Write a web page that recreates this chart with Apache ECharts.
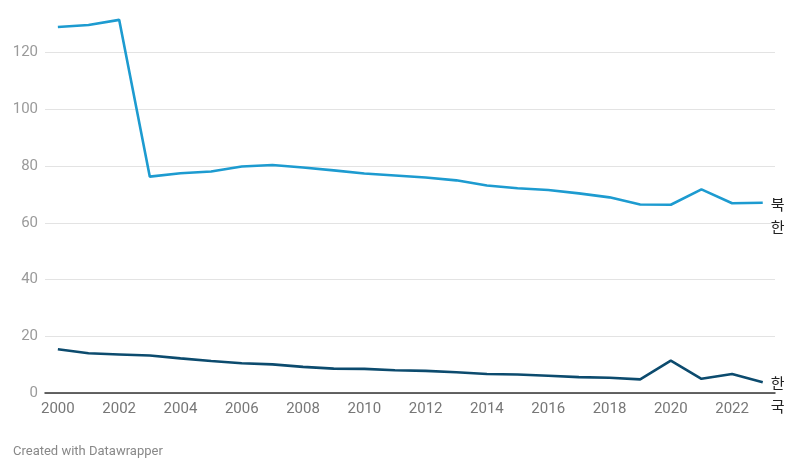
<!DOCTYPE html>
<html>
<head>
<meta charset="utf-8">
<script src="https://cdn.jsdelivr.net/npm/echarts@6/dist/echarts.min.js"></script>
<style>
html,body{margin:0;padding:0;background:#fff;}
#c{width:800px;height:472px;}
</style>
</head>
<body>
<div id="c"></div>
<script>
const years = [2000,2001,2002,2003,2004,2005,2006,2007,2008,2009,2010,2011,2012,2013,2014,2015,2016,2017,2018,2019,2020,2021,2022,2023];
const northKorea = [129.1,129.8,131.6,76.3,77.5,78.1,79.9,80.4,79.5,78.5,77.4,76.7,76.0,75.0,73.2,72.2,71.6,70.4,69.0,66.5,66.4,71.8,66.9,67.1];
const southKorea = [15.4,14.0,13.6,13.2,12.2,11.3,10.5,10.1,9.2,8.6,8.5,8.0,7.8,7.3,6.7,6.5,6.1,5.6,5.4,4.8,11.4,5.0,6.7,3.8];
const xTickLabels = [2000,2002,2004,2006,2008,2010,2012,2014,2016,2018,2020,2022];
const nkName = '북한';
const skName = '한국';

const chart = echarts.init(document.getElementById('c'), null, {renderer:'canvas'});
const font = 'Roboto, "Noto Sans CJK KR", sans-serif';
function pairs(vals){ return years.map((y,i)=>[y, vals[i]]); }
function endLabel(name){
  return {
    show: true,
    formatter: name.split('').join('\n'),
    color: '#222',
    fontFamily: font,
    fontSize: 15,
    lineHeight: 23,
    align: 'left',
    verticalAlign: 'top',
    distance: 8,
    offset: [0, -8]
  };
}
const gl = '#e3e3e3';
chart.setOption({
  animation: false,
  textStyle: {fontFamily: font},
  grid: {left: 45, right: 25, top: 0, bottom: 79, containLabel: false},
  xAxis: {
    type: 'value',
    min: 1999.58,
    max: 2023.4,
    axisLine: {show: true, lineStyle: {color: '#333', width: 1.5}},
    axisTick: {show: false},
    splitLine: {show: false},
    axisLabel: {
      customValues: xTickLabels,
      color: '#777',
      fontSize: 15,
      fontFamily: font,
      margin: 9,
      formatter: v => String(v)
    }
  },
  yAxis: {
    type: 'value',
    min: 0,
    max: 138.6,
    interval: 20,
    axisLine: {show: false},
    axisTick: {show: false},
    splitLine: {show: true, lineStyle: {color: [gl,gl,gl,gl,gl,gl,gl,'rgba(0,0,0,0)'], width: 1}},
    axisLabel: {color: '#9a9a9a', fontSize: 15, fontFamily: font, margin: 7, showMaxLabel: false}
  },
  series: [
    {
      name: nkName, type: 'line', data: pairs(northKorea),
      symbol: 'none', smooth: false,
      lineStyle: {color: '#1d9bd0', width: 2.6},
      itemStyle: {color: '#1d9bd0'},
      endLabel: endLabel(nkName)
    },
    {
      name: skName, type: 'line', data: pairs(southKorea),
      symbol: 'none', smooth: false,
      lineStyle: {color: '#0c4b6e', width: 2.6},
      itemStyle: {color: '#0c4b6e'},
      endLabel: endLabel(skName)
    }
  ],
  graphic: [
    {type: 'text', left: 13, top: 445, style: {text: 'Created with Datawrapper', fill: '#888', fontSize: 13, fontFamily: font}}
  ]
});
</script>
</body>
</html>
